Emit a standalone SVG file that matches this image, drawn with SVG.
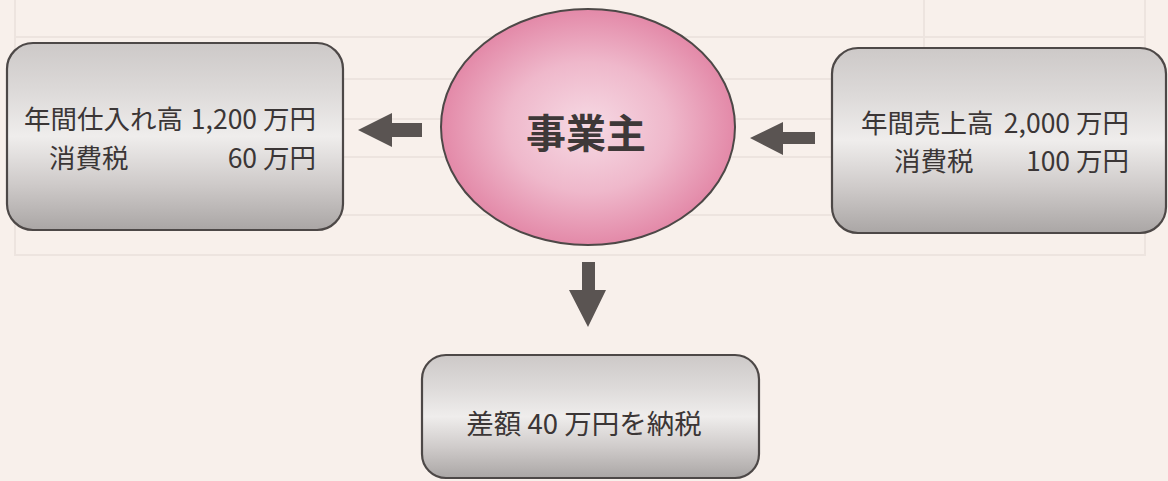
<svg xmlns="http://www.w3.org/2000/svg" width="1168" height="481" viewBox="0 0 1168 481">
<defs>
<style>
.bg{fill:#f8f0eb}
.grid{stroke:#ede4df;stroke-width:2;fill:none}
.box{stroke:#4d4847;stroke-width:2.2;fill:url(#boxg)}
.t{font-family:"Noto Sans CJK JP","Noto Sans",sans-serif;font-size:26.5px;fill:#3b3636}
.big{font-family:"Noto Sans CJK JP","Noto Sans",sans-serif;font-size:40px;font-weight:bold;fill:#3e3838}
.arr{fill:#5a5452}
</style>
<linearGradient id="boxg" x1="0" y1="0" x2="0" y2="1">
<stop offset="0" stop-color="#cdc9c8"/>
<stop offset="0.25" stop-color="#dcd9d8"/>
<stop offset="0.5" stop-color="#efedec"/>
<stop offset="0.75" stop-color="#cfcbca"/>
<stop offset="1" stop-color="#aaa6a5"/>
</linearGradient>
<radialGradient id="ellg" cx="0.5" cy="0.5" r="0.5">
<stop offset="0" stop-color="#f6dae4"/>
<stop offset="0.55" stop-color="#efb8cb"/>
<stop offset="1" stop-color="#e389a8"/>
</radialGradient>
</defs>
<rect class="bg" x="0" y="0" width="1168" height="481"/>
<g id="background-grid">
<path class="grid" d="M15 0V255H1145V0M15 37H1145M15 79H1145M15 119H1145M15 157H1145M15 215H1145M924 0V119"/>
</g>
<g id="connectors">
<polygon class="arr" points="358,130 392,113 392,123 422,123 422,137 392,137 392,147"/>
<polygon class="arr" points="750,138 783,122 783,132 815,132 815,144 783,144 783,155"/>
<polygon class="arr" points="582,262 595,262 595,290 606,290 588,327 569,290 582,290"/>
</g>
<g id="node-purchases">
<rect class="box" x="7" y="43" width="336" height="187" rx="26"/>
<text class="t" x="24" y="129">年間仕入れ高</text>
<text class="t" x="316" y="129" text-anchor="end">1,200 万円</text>
<text class="t" x="49" y="168">消費税</text>
<text class="t" x="316" y="168" text-anchor="end">60 万円</text>
</g>
<g id="node-owner">
<ellipse cx="588" cy="127" rx="147" ry="118" fill="url(#ellg)" stroke="#4d4847" stroke-width="2"/>
<text class="big" x="586" y="148" text-anchor="middle">事業主</text>
</g>
<g id="node-sales">
<rect class="box" x="832" y="48" width="334" height="185" rx="26"/>
<text class="t" x="861" y="133">年間売上高</text>
<text class="t" x="1129" y="133" text-anchor="end">2,000 万円</text>
<text class="t" x="894" y="171">消費税</text>
<text class="t" x="1129" y="171" text-anchor="end">100 万円</text>
</g>
<g id="node-payment">
<rect class="box" x="422" y="355" width="337" height="123" rx="24"/>
<text class="t" x="584" y="434" text-anchor="middle" style="font-size:27.5px">差額 40 万円を納税</text>
</g>
</svg>
